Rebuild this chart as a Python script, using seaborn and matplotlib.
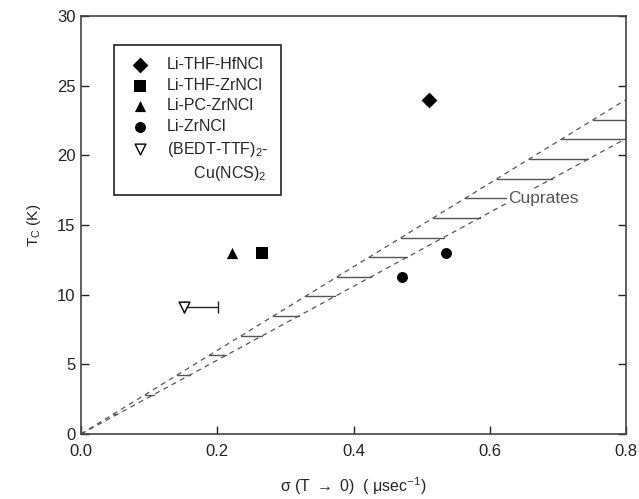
import matplotlib
matplotlib.use("Agg")
import matplotlib.pyplot as plt
from matplotlib.lines import Line2D
import seaborn as sns
import numpy as np
import pandas as pd

# ---- data ----
labels = ["Li-THF-HfNCl", "Li-THF-ZrNCl", "Li-PC-ZrNCl", "Li-ZrNCl", "Li-ZrNCl",
          "(BEDT-TTF)$_2$-"]
label_continuation = "      Cu(NCS)$_2$"
sigma = [0.511, 0.266, 0.221, 0.471, 0.536, 0.151]
tc = [24.0, 13.0, 13.0, 11.3, 13.0, 9.1]
bedt_xerr_plus = 0.05
cuprate_slope_upper = 30.0
cuprate_slope_lower = 26.5
hatch_levels = [1.41, 2.82, 4.23, 5.64, 7.05, 8.46, 9.87, 11.28, 12.69, 14.10,
                15.51, 16.92, 18.33, 19.74, 21.15, 22.56]
x_ticks = [0.0, 0.2, 0.4, 0.6, 0.8]
y_ticks = [0, 5, 10, 15, 20, 25, 30]

sns.set_theme(style="ticks")
plt.rcParams['font.family'] = ['Liberation Sans', 'DejaVu Sans']
plt.rcParams['mathtext.fontset'] = 'custom'
plt.rcParams['mathtext.rm'] = 'Liberation Sans'
plt.rcParams['mathtext.it'] = 'Liberation Sans'

fig = plt.figure(figsize=(6.39, 4.99), dpi=100)
ax = fig.add_axes([0.1268, 0.1303, 0.8529, 0.8377])

grey = "#555555"
# cuprate band
xs = np.array([0.0, 0.8])
ax.plot(xs, cuprate_slope_upper * xs, ls=(0, (4, 3.5)), color=grey, lw=0.9, zorder=1)
ax.plot(xs, cuprate_slope_lower * xs, ls=(0, (4, 3.5)), color=grey, lw=0.9, zorder=1)
for t in hatch_levels:
    x0 = t / cuprate_slope_upper
    x1 = min(t / cuprate_slope_lower, 0.8)
    ax.plot([x0, x1], [t, t], color=grey, lw=1.0, zorder=1)
ax.text(0.627, 16.92, "Cuprates", color=grey, fontsize=12.5, va="center", ha="left",
        zorder=2, bbox=dict(facecolor="white", edgecolor="none", pad=0.5))

df = pd.DataFrame({"sigma": sigma, "tc": tc, "label": labels})
markers = ["D", "s", "^", "o", "o", "v"]
sizes = [65, 75, 65, 62, 62, 60]
shown = set()
for i, row in df.iterrows():
    lab = row["label"] if row["label"] not in shown else None
    shown.add(row["label"])
    open_marker = markers[i] == "v"
    sns.scatterplot(x=[row["sigma"]], y=[row["tc"]], ax=ax, marker=markers[i], s=sizes[i],
                    color="white" if open_marker else "black",
                    edgecolor="black", linewidth=1.0 if open_marker else 0,
                    label=lab, zorder=3)

ax.errorbar([sigma[5]], [tc[5]], xerr=[[0], [bedt_xerr_plus]], fmt="none",
            ecolor="#222222", elinewidth=1.0, capsize=4, capthick=1.0, zorder=2)

ax.set_xlim(0, 0.8)
ax.set_ylim(0, 30)
ax.set_xticks(x_ticks)
ax.set_xticklabels([f"{v:.1f}" for v in x_ticks])
ax.set_yticks(y_ticks)
ax.tick_params(direction="in", length=6, width=1.0, top=False, right=True,
               labelsize=12, colors="#222222", pad=4)
ax.tick_params(axis="x", pad=7)
for sp in ax.spines.values():
    sp.set_visible(True)
    sp.set_color("#444444")
    sp.set_linewidth(1.2)

ax.set_xlabel("σ (T $\\rightarrow$ 0)  ( μsec$^{-1}$)", fontsize=11.5, labelpad=12)
ax.set_ylabel("T$_C$ (K)", fontsize=11, labelpad=10)

handles, labs = ax.get_legend_handles_labels()
handles.append(Line2D([], [], linestyle="none", marker=None))
labs.append(label_continuation)
leg = ax.legend(handles, labs, loc="upper left", bbox_to_anchor=(0.06, 0.93),
                borderaxespad=0, fontsize=11.5, frameon=True, fancybox=False,
                shadow=False, labelspacing=0.35, handletextpad=0.8, borderpad=0.75,
                handlelength=1.8)
leg.get_frame().set_edgecolor("black")
leg.get_frame().set_linewidth(1.3)

fig.savefig("out.png", dpi=100)
